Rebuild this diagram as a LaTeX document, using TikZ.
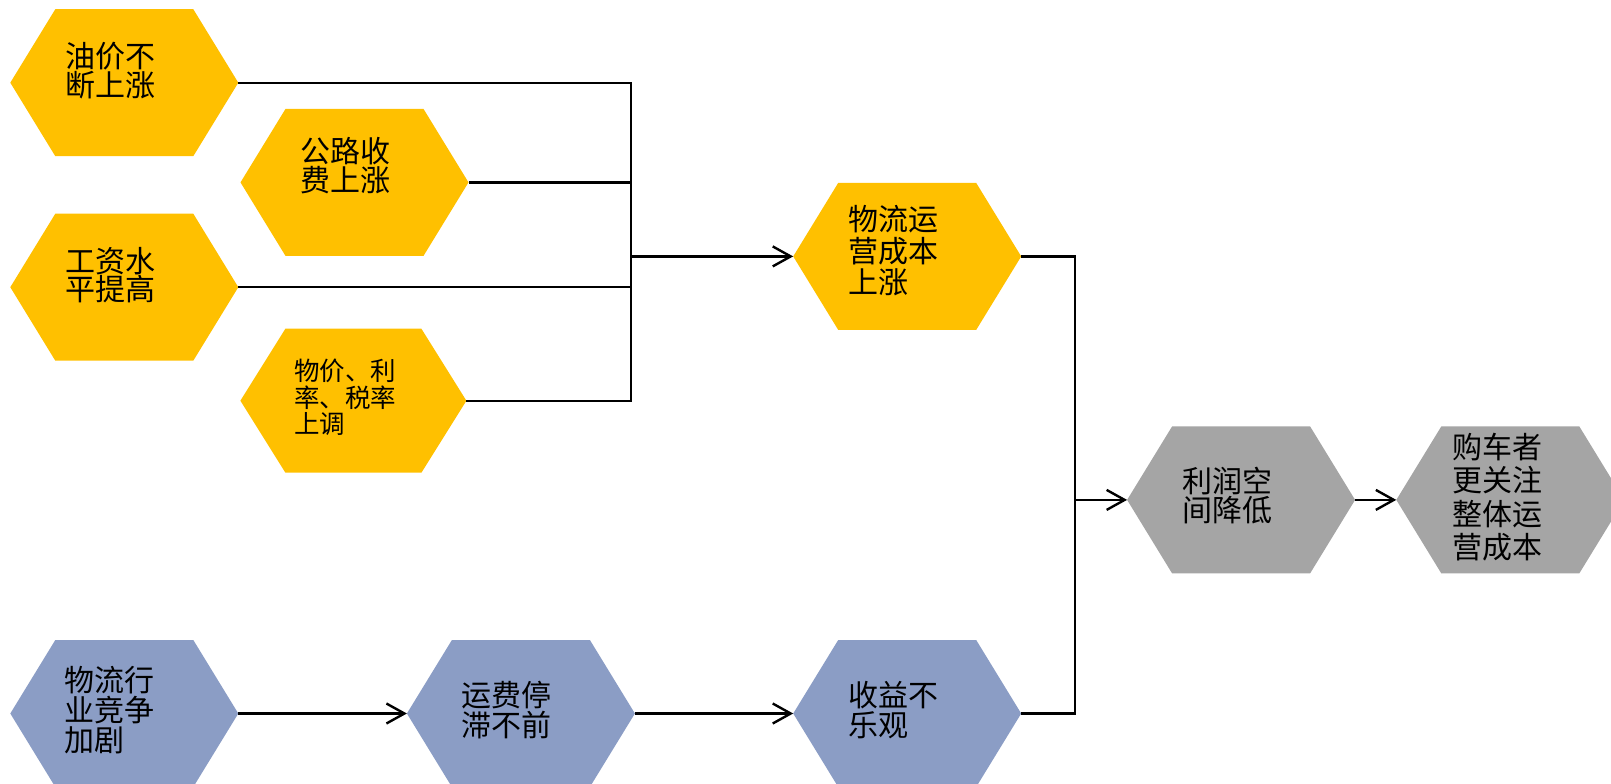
\documentclass[tikz,border=0pt]{standalone}
\usepackage{fontspec}
\newfontfamily\cjk{Noto Sans CJK SC}
\usetikzlibrary{arrows.meta}
\definecolor{hexyellow}{HTML}{FFC000}
\definecolor{hexblue}{HTML}{8B9DC5}
\definecolor{hexgray}{HTML}{A5A5A5}
\tikzset{
  hexa/.style={minimum width=228pt, minimum height=147pt, inner sep=0pt, outer sep=0pt,
    path picture={\fill[#1]
      ([xshift=45pt]path picture bounding box.north west) --
      ([xshift=-45pt]path picture bounding box.north east) --
      (path picture bounding box.east) --
      ([xshift=-45pt]path picture bounding box.south east) --
      ([xshift=45pt]path picture bounding box.south west) --
      (path picture bounding box.west) -- cycle;}},
  lbl/.style={anchor=west, inner sep=0pt, outer sep=0pt, align=left},
  conn/.style={line width=2.4pt, black},
  arr/.style={conn, -{Straight Barb[length=18pt, width=20pt, line width=2.4pt]}},
}
\begin{document}
\begin{tikzpicture}[x=1pt, y=-1pt]
\useasboundingbox (0,0) rectangle (1611,784);
\clip (0,0) rectangle (1611,784);
% hexagons
\node[hexa=hexyellow] (h1) at (124.3,82.7) {};
\node[hexa=hexyellow] (h2) at (354.5,182.4) {};
\node[hexa=hexyellow] (h3) at (124.3,287.2) {};
\node[hexa=hexyellow, minimum width=226pt, minimum height=144pt] (h4) at (353.4,400.7) {};
\node[hexa=hexyellow] (h5) at (907.2,256.4) {};
\node[hexa=hexgray] (h6) at (1241.1,499.9) {};
\node[hexa=hexgray] (h7) at (1510.3,499.9) {};
\node[hexa=hexblue] (h8) at (124.3,713.5) {};
\node[hexa=hexblue] (h9) at (520.9,713.5) {};
\node[hexa=hexblue] (h10) at (907.2,713.5) {};
% texts
\node[lbl, font=\cjk\fontsize{30}{28.5}\selectfont] (t1) at (65.8,70.5) {油价不\\断上涨};
\node[lbl, font=\cjk\fontsize{30}{28.5}\selectfont] (t2) at (300,165.5) {公路收\\费上涨};
\node[lbl, font=\cjk\fontsize{30}{28.5}\selectfont] (t3) at (65.8,275) {工资水\\平提高};
\node[lbl, font=\cjk\fontsize{25.5}{26.5}\selectfont] (t4) at (294,397.5) {物价、利\\率、税率\\上调};
\node[lbl, font=\cjk\fontsize{30}{31.5}\selectfont] (t5) at (848,251) {物流运\\营成本\\上涨};
\node[lbl, font=\cjk\fontsize{30}{29}\selectfont] (t6) at (1182,495.5) {利润空\\间降低};
\node[lbl, font=\cjk\fontsize{30}{33.5}\selectfont] (t7) at (1452,497) {购车者\\更关注\\整体运\\营成本};
\node[lbl, font=\cjk\fontsize{30}{30}\selectfont] (t8) at (64,710) {物流行\\业竞争\\加剧};
\node[lbl, font=\cjk\fontsize{30}{30.5}\selectfont] (t9) at (461,710) {运费停\\滞不前};
\node[lbl, font=\cjk\fontsize{30}{29.5}\selectfont] (t10) at (848,710) {收益不\\乐观};
% junctions
\coordinate (j1) at (630.8,256.4);
\coordinate (j2) at (1074.7,499.9);
% connectors
\draw[conn] (h1.east) -| (j1);
\draw[conn] (h2.east) -| (j1);
\draw[conn] (h3.east) -| (j1);
\draw[conn] (h4.east) -| (j1);
\draw[arr] (j1) -- (h5.west);
\draw[conn] (h5.east) -| (j2);
\draw[conn] (h10.east) -| (j2);
\draw[arr] (j2) -- (h6.west);
\draw[arr] (h6.east) -- (h7.west);
\draw[arr] (h8.east) -- (h9.west);
\draw[arr] (h9.east) -- (h10.west);
\end{tikzpicture}
\end{document}
